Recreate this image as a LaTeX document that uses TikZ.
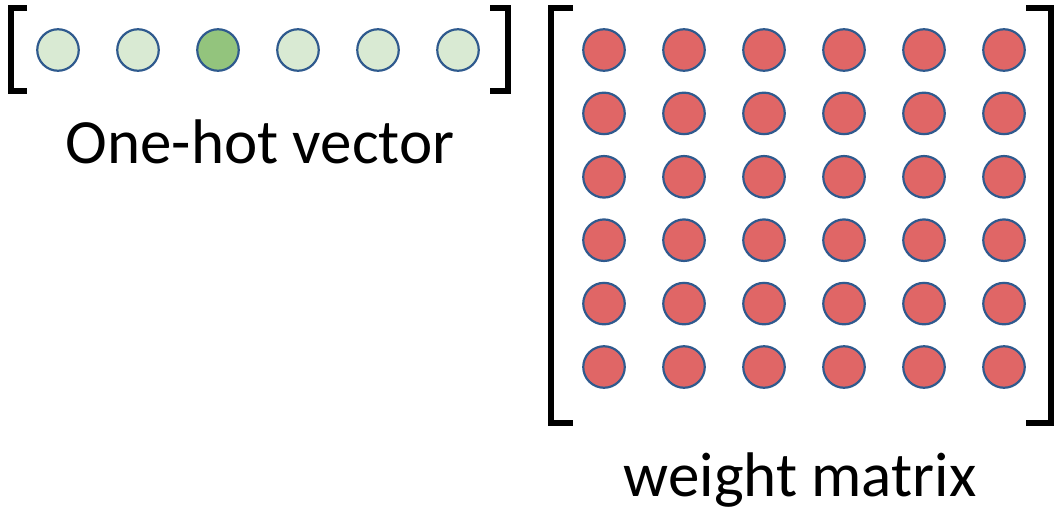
\documentclass[tikz,border=0pt]{standalone}
\usepackage{fontspec}
\setmainfont{Carlito}
\definecolor{rim}{HTML}{2F5A8E}
\definecolor{palegreen}{HTML}{D9EAD3}
\definecolor{hotgreen}{HTML}{93C47D}
\definecolor{weightred}{HTML}{E06666}
\tikzset{
  dot/.style={circle, draw=rim, line width=2.2pt, inner sep=0pt, minimum size=41.5pt},
  cold/.style={dot, fill=palegreen},
  hot/.style={dot, fill=hotgreen},
  wdot/.style={dot, fill=weightred},
  brack/.style={line width=6pt, line join=miter, black},
  caption/.style={anchor=base, inner sep=0pt, font=\fontsize{63}{70}\selectfont}
}
\begin{document}
\begin{tikzpicture}[x=1pt, y=-1pt]
  \useasboundingbox (0,0) rectangle (1057,511);
  % one-hot vector entries
  \foreach \i in {1,...,6} {
    \ifnum\i=3
      \node[hot] (v\i) at ({58+80*(\i-1)}, 50) {};
    \else
      \node[cold] (v\i) at ({58+80*(\i-1)}, 50) {};
    \fi
  }
  % brackets around the vector
  \draw[brack] (27,8) -- (10.5,8) -- (10.5,91) -- (27,91);
  \draw[brack] (490,8) -- (508,8) -- (508,91) -- (490,91);
  \node[caption] (vlabel) at (260,163) {One-hot vector};
  % weight matrix entries
  \foreach \r in {1,...,6} {
    \foreach \c in {1,...,6} {
      \node[wdot] (w\r\c) at ({604+80*(\c-1)}, {50+63.4*(\r-1)}) {};
    }
  }
  % brackets around the matrix
  \draw[brack] (573,8) -- (550.5,8) -- (550.5,423) -- (573,423);
  \draw[brack] (1026,8) -- (1051,8) -- (1051,423) -- (1026,423);
  \node[caption] (wlabel) at (800,496) {weight matrix};
\end{tikzpicture}
\end{document}
